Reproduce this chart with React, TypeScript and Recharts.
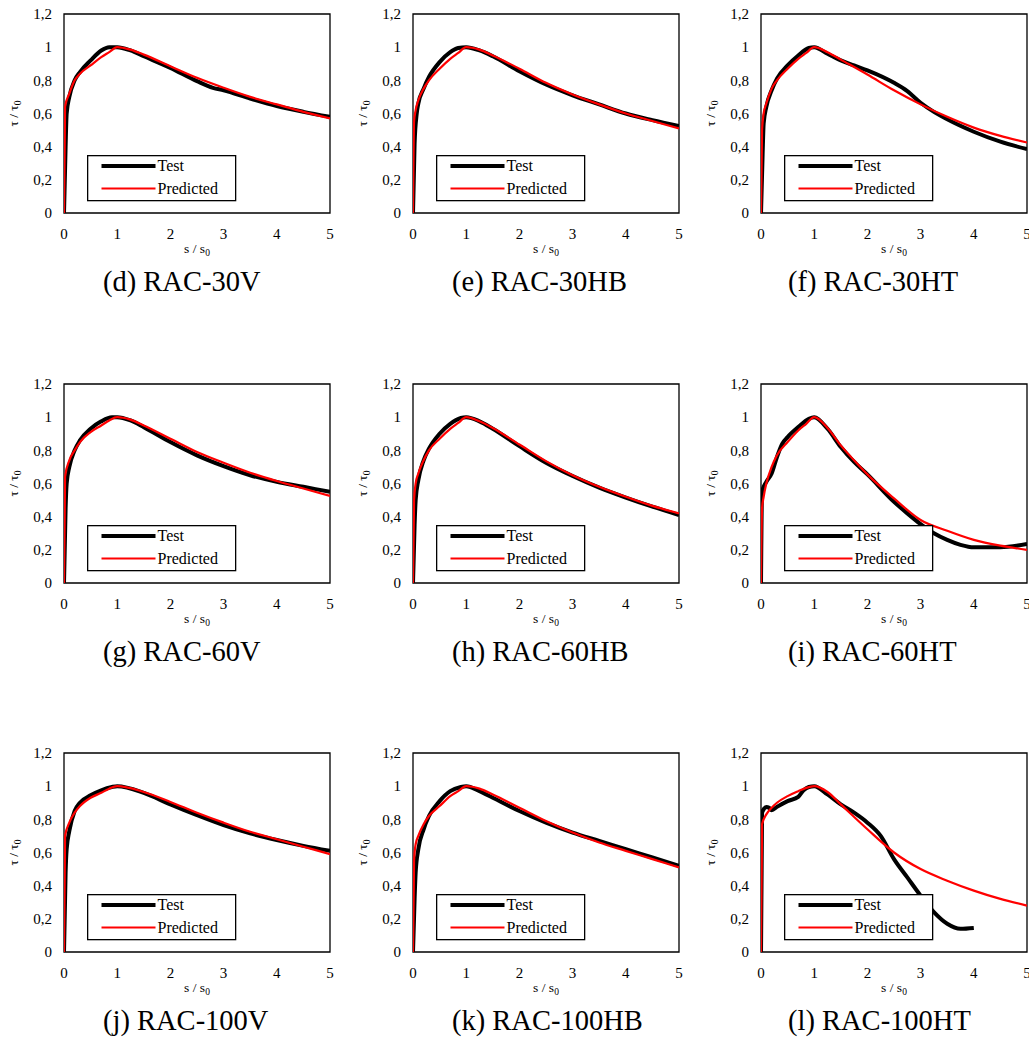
import React from 'react';
import { LineChart, Line, XAxis, YAxis, ReferenceArea } from 'recharts';

type Pt = [number, number];
const FONT = '"Times New Roman", "Liberation Serif", serif';

// ---- data (s/s0, tau/tau0) ----
const test30V: Pt[] = [[0,0],[0.03,0.4],[0.05,0.6],[0.1,0.7],[0.2,0.8],[0.3,0.85],[0.5,0.92],[0.7,0.98],[0.85,1.0],[1,1.0],[1.25,0.98],[1.5,0.945],[2,0.875],[2.5,0.795],[2.8,0.755],[3,0.74],[3.5,0.69],[4,0.645],[4.5,0.61],[5,0.58]];
const pred30V: Pt[] = [[0,0],[0.02,0.64],[0.1,0.72],[0.2,0.8],[0.3,0.84],[0.5,0.89],[0.7,0.94],[0.85,0.97],[1,1.0],[1.25,0.985],[1.5,0.955],[2,0.885],[2.5,0.815],[3,0.755],[3.5,0.7],[4,0.655],[4.5,0.61],[5,0.57]];

const test30HB: Pt[] = [[0,0],[0.03,0.42],[0.07,0.6],[0.1,0.66],[0.2,0.75],[0.3,0.82],[0.5,0.91],[0.7,0.97],[0.85,0.995],[1,1.0],[1.25,0.98],[1.5,0.945],[2,0.855],[2.5,0.775],[3,0.71],[3.5,0.655],[4,0.6],[4.5,0.56],[5,0.525]];
const pred30HB: Pt[] = [[0,0],[0.02,0.55],[0.05,0.62],[0.1,0.68],[0.2,0.75],[0.3,0.8],[0.5,0.87],[0.7,0.93],[0.85,0.965],[1,1.0],[1.25,0.985],[1.5,0.95],[2,0.87],[2.5,0.785],[3,0.715],[3.5,0.655],[4,0.6],[4.5,0.555],[5,0.51]];

const test30HT: Pt[] = [[0,0],[0.03,0.35],[0.05,0.54],[0.1,0.64],[0.2,0.74],[0.3,0.81],[0.5,0.89],[0.7,0.95],[0.9,0.995],[1,1.0],[1.25,0.96],[1.5,0.92],[1.75,0.89],[2,0.86],[2.5,0.785],[2.75,0.735],[3,0.665],[3.25,0.61],[3.5,0.565],[4,0.49],[4.5,0.43],[5,0.385]];
const pred30HT: Pt[] = [[0,0],[0.02,0.5],[0.05,0.6],[0.1,0.66],[0.2,0.75],[0.3,0.8],[0.5,0.87],[0.7,0.93],[0.85,0.965],[1,1.0],[1.25,0.97],[1.5,0.925],[2,0.835],[2.5,0.74],[3,0.655],[3.5,0.58],[4,0.515],[4.5,0.465],[5,0.425]];

const test60V: Pt[] = [[0,0],[0.03,0.45],[0.05,0.6],[0.1,0.7],[0.2,0.8],[0.3,0.86],[0.5,0.93],[0.7,0.975],[0.9,1.0],[1,1.0],[1.25,0.98],[1.5,0.94],[2,0.85],[2.5,0.77],[3,0.705],[3.5,0.65],[4,0.61],[4.5,0.58],[5,0.55]];
const pred60V: Pt[] = [[0,0],[0.02,0.64],[0.1,0.74],[0.2,0.8],[0.3,0.85],[0.5,0.91],[0.7,0.95],[0.85,0.98],[1,1.0],[1.25,0.985],[1.5,0.95],[2,0.87],[2.5,0.79],[3,0.725],[3.5,0.665],[4,0.615],[4.5,0.57],[5,0.525]];

const test60HB: Pt[] = [[0,0],[0.03,0.35],[0.05,0.5],[0.1,0.62],[0.2,0.74],[0.3,0.81],[0.5,0.9],[0.7,0.96],[0.9,0.995],[1,1.0],[1.25,0.975],[1.5,0.93],[2,0.825],[2.5,0.725],[3,0.645],[3.5,0.575],[4,0.515],[4.5,0.46],[5,0.41]];
const pred60HB: Pt[] = [[0,0],[0.02,0.5],[0.05,0.6],[0.1,0.66],[0.2,0.74],[0.3,0.8],[0.5,0.87],[0.7,0.93],[0.85,0.965],[1,1.0],[1.25,0.975],[1.5,0.935],[2,0.835],[2.5,0.735],[3,0.65],[3.5,0.58],[4,0.52],[4.5,0.465],[5,0.42]];

const test60HT: Pt[] = [[0,0],[0.02,0.55],[0.1,0.61],[0.2,0.66],[0.3,0.76],[0.4,0.84],[0.5,0.88],[0.7,0.94],[0.9,0.99],[1,1.0],[1.25,0.93],[1.5,0.82],[1.75,0.73],[2,0.655],[2.5,0.49],[2.75,0.42],[3,0.355],[3.25,0.3],[3.5,0.26],[3.75,0.23],[4,0.215],[4.5,0.215],[5,0.235]];
const pred60HT: Pt[] = [[0,0],[0.02,0.45],[0.05,0.52],[0.1,0.6],[0.2,0.7],[0.3,0.77],[0.5,0.85],[0.7,0.92],[0.85,0.96],[1,1.0],[1.25,0.935],[1.5,0.83],[1.75,0.74],[2,0.655],[2.5,0.51],[3,0.38],[3.5,0.315],[4,0.26],[4.5,0.225],[5,0.2]];

const test100V: Pt[] = [[0,0],[0.03,0.48],[0.05,0.62],[0.1,0.73],[0.2,0.85],[0.3,0.9],[0.5,0.945],[0.7,0.975],[0.9,0.995],[1,1.0],[1.5,0.96],[2,0.89],[2.5,0.825],[3,0.765],[3.5,0.715],[4,0.675],[4.5,0.64],[5,0.61]];
const pred100V: Pt[] = [[0,0],[0.02,0.7],[0.1,0.78],[0.2,0.84],[0.3,0.88],[0.5,0.93],[0.7,0.96],[0.85,0.985],[1,1.0],[1.5,0.965],[2,0.905],[2.5,0.84],[3,0.78],[3.5,0.725],[4,0.68],[4.5,0.635],[5,0.59]];

const test100HB: Pt[] = [[0,0],[0.03,0.32],[0.05,0.48],[0.1,0.62],[0.2,0.74],[0.3,0.82],[0.5,0.91],[0.7,0.97],[0.9,0.995],[1,1.0],[1.25,0.97],[1.5,0.93],[2,0.85],[2.5,0.78],[3,0.72],[3.5,0.67],[4,0.62],[4.5,0.57],[5,0.52]];
const pred100HB: Pt[] = [[0,0],[0.02,0.55],[0.05,0.65],[0.1,0.7],[0.2,0.77],[0.3,0.82],[0.5,0.88],[0.7,0.94],[0.85,0.97],[1,1.0],[1.25,0.985],[1.5,0.95],[2,0.87],[2.5,0.79],[3,0.72],[3.5,0.66],[4,0.61],[4.5,0.56],[5,0.51]];

const test100HT: Pt[] = [[0,0],[0.02,0.84],[0.05,0.86],[0.1,0.875],[0.15,0.87],[0.2,0.855],[0.3,0.875],[0.5,0.91],[0.7,0.935],[0.8,0.975],[0.9,0.995],[1,1.0],[1.25,0.95],[1.5,0.89],[1.75,0.84],[2,0.78],[2.25,0.7],[2.5,0.56],[2.75,0.45],[3,0.34],[3.25,0.24],[3.5,0.17],[3.75,0.14],[4,0.145]];
const pred100HT: Pt[] = [[0,0],[0.02,0.77],[0.1,0.83],[0.2,0.87],[0.3,0.9],[0.5,0.94],[0.7,0.97],[0.85,0.99],[1,1.0],[1.25,0.965],[1.5,0.89],[2,0.74],[2.5,0.6],[3,0.5],[3.5,0.43],[4,0.37],[4.5,0.32],[5,0.28]];

const CAPTIONS = ['(d) RAC-30V', '(e) RAC-30HB', '(f) RAC-30HT', '(g) RAC-60V', '(h) RAC-60HB', '(i) RAC-60HT', '(j) RAC-100V', '(k) RAC-100HB', '(l) RAC-100HT'];
const TESTS = [test30V, test30HB, test30HT, test60V, test60HB, test60HT, test100V, test100HB, test100HT];
const PREDS = [pred30V, pred30HB, pred30HT, pred60V, pred60HB, pred60HT, pred100V, pred100HB, pred100HT];
const SERIES_NAMES = ['Test', 'Predicted'];
const X_TICKS = [0, 1, 2, 3, 4, 5];
const Y_TICKS = [0, 0.2, 0.4, 0.6, 0.8, 1, 1.2];

// ---- layout ----
const COL_PLOT_LEFT = [64, 413, 761];
const ROW_PLOT_TOP = [14, 383.5, 753];
const CAPTION_LEFT = [103, 452, 788];
const PLOT_W = 266;
const PLOT_H = 199;
const AXIS_W = 60;
const M_LEFT = 4;
const X_AXIS_H = 36;
const M_BOTTOM = 16;

const fmt = (v: number) => String(v).replace('.', ',');

const XTitle = () => (
  <text x={M_LEFT + AXIS_W + PLOT_W / 2} y={14 + PLOT_H + 39.5} textAnchor="middle" fontFamily={FONT} fontSize={13.5} fill="#000">
    <tspan>s / s</tspan>
    <tspan fontSize={9.5} dy={3}>0</tspan>
  </text>
);

const YTitle = () => {
  const cx = 18;
  const cy = 14 + PLOT_H / 2;
  return (
    <text x={cx} y={cy} transform={`rotate(-90, ${cx}, ${cy})`} textAnchor="middle" fontFamily={FONT} fontSize={13.5} fill="#000">
      <tspan>τ / τ</tspan>
      <tspan fontSize={9.5} dy={3}>0</tspan>
    </text>
  );
};

function Panel({ idx }: { idx: number }) {
  const col = idx % 3;
  const row = Math.floor(idx / 3);
  const left = COL_PLOT_LEFT[col] - M_LEFT - AXIS_W;
  const top = ROW_PLOT_TOP[row] - 14;
  const width = col === 2 ? 1029 - left : 340;
  const right = width - M_LEFT - AXIS_W - PLOT_W;
  const height = 14 + PLOT_H + X_AXIS_H + M_BOTTOM;
  const testData = TESTS[idx].map(([x, y]) => ({ x, y }));
  const predData = PREDS[idx].map(([x, y]) => ({ x, y }));
  const tickStyle = { fill: '#000', fontSize: 15, fontFamily: FONT };
  return (
    <div style={{ position: 'absolute', left, top, width, height: 300 }}>
      <LineChart width={width} height={height} margin={{ top: 14, right, left: M_LEFT, bottom: M_BOTTOM }}>
        <XAxis
          type="number"
          dataKey="x"
          domain={[0, 5]}
          ticks={X_TICKS}
          interval={0}
          allowDataOverflow
          tickLine={false}
          axisLine={false}
          tickSize={0}
          tickMargin={15}
          height={X_AXIS_H}
          tick={tickStyle}
          label={XTitle}
        />
        <YAxis
          type="number"
          domain={[0, 1.2]}
          ticks={Y_TICKS}
          interval={0}
          allowDataOverflow
          tickLine={false}
          axisLine={false}
          tickSize={0}
          tickMargin={12}
          width={AXIS_W}
          tick={tickStyle}
          tickFormatter={fmt}
          label={YTitle}
        />
        <ReferenceArea x1={0} x2={5} y1={0} y2={1.2} fill="none" fillOpacity={0} stroke="#000" strokeWidth={1.3} />
        <Line name={SERIES_NAMES[0]} data={testData} dataKey="y" type="monotone" stroke="#000" strokeWidth={4} dot={false} activeDot={false} isAnimationActive={false} />
        <Line name={SERIES_NAMES[1]} data={predData} dataKey="y" type="monotone" stroke="#ff0000" strokeWidth={2.2} dot={false} activeDot={false} isAnimationActive={false} />
      </LineChart>
      <svg style={{ position: 'absolute', left: 0, top: 0, pointerEvents: 'none' }} width={width} height={300}>
        <g transform={`translate(${M_LEFT + AXIS_W + 23}, ${14 + 141})`}>
          <rect x={0.65} y={0.65} width={148} height={45} fill="#fff" stroke="#000" strokeWidth={1.3} />
          <line x1={14.5} x2={68.5} y1={11} y2={11} stroke="#000" strokeWidth={4} />
          <text x={70.5} y={16.3} fontFamily={FONT} fontSize={16} fill="#000">{SERIES_NAMES[0]}</text>
          <line x1={14.5} x2={68.5} y1={33.5} y2={33.5} stroke="#ff0000" strokeWidth={2.2} />
          <text x={70.5} y={38.8} fontFamily={FONT} fontSize={16} fill="#000">{SERIES_NAMES[1]}</text>
        </g>
        <text x={CAPTION_LEFT[col] - left} y={290.7} fontFamily={FONT} fontSize={28.5} fill="#000">{CAPTIONS[idx]}</text>
      </svg>
    </div>
  );
}

export default function App() {
  return (
    <div style={{ position: 'absolute', left: 0, top: 0, width: 1029, height: 1037, overflow: 'hidden', background: '#fff' }}>
      {CAPTIONS.map((_, i) => (
        <Panel key={i} idx={i} />
      ))}
    </div>
  );
}
